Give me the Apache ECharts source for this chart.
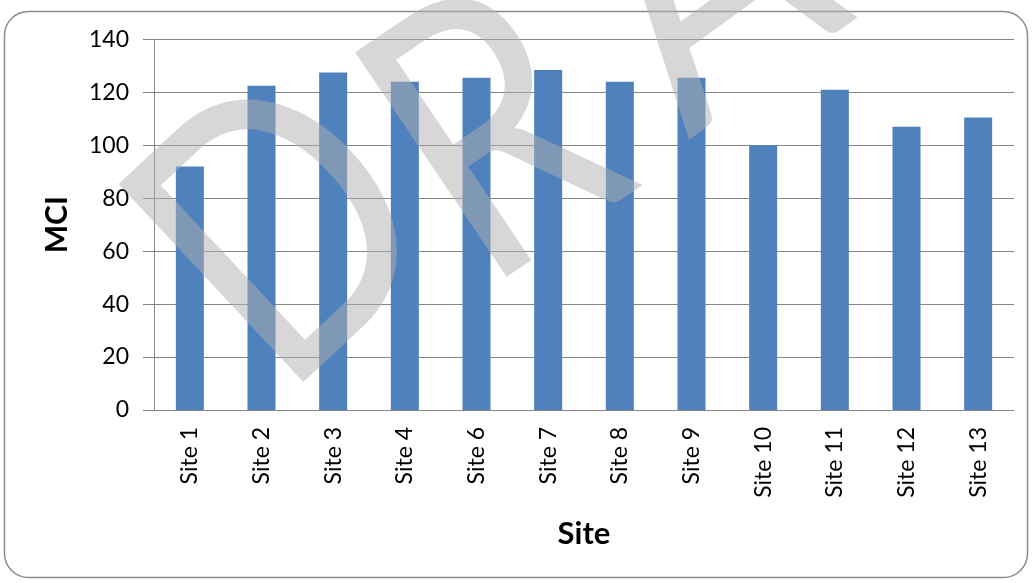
<!DOCTYPE html>
<html>
<head>
<meta charset="utf-8">
<script src="https://cdn.jsdelivr.net/npm/echarts@6/dist/echarts.min.js"></script>
<style>
  html, body { margin: 0; padding: 0; background: #ffffff; }
  #chart { width: 1033px; height: 583px; }
</style>
</head>
<body>
<div id="chart"></div>
<script>
// Site names along the x axis
const sites = ['Site 1', 'Site 2', 'Site 3', 'Site 4', 'Site 6', 'Site 7',
               'Site 8', 'Site 9', 'Site 10', 'Site 11', 'Site 12', 'Site 13'];
// MCI score at each site
const mciValues = [92, 122.5, 127.5, 124, 125.5, 128.5, 124, 125.5, 100, 121, 107, 110.5];
// Value axis range
const yMin = 0, yMax = 140, yStep = 20;

const FONT = 'Lato, "Open Sans", sans-serif';

// Watermark letters: lower-left ink corner on screen, tilt in degrees, left side bearing (em)
const stampLetters = [
  { ch: 'D', corner: [298, 378], deg: 43, lsb: 0.088 },
  { ch: 'R', corner: [502, 272], deg: 34, lsb: 0.088 },
  { ch: 'A', corner: [687, 133], deg: 36, lsb: 0.01 },
  { ch: 'F', corner: [885, -5], deg: 36, lsb: 0.088 },
  { ch: 'T', corner: [1040, -120], deg: 36, lsb: 0.02 }
];
const STAMP_SIZE = 378;     // px
const STAMP_SQUEEZE = 0.82; // horizontal glyph scale
const STAMP_DESCENT = 0.195 * STAMP_SIZE; // baseline above the text box bottom

function stampLetter(item) {
  const t = item.deg * Math.PI / 180;
  const lx = STAMP_SQUEEZE * item.lsb * STAMP_SIZE;
  const ly = -STAMP_DESCENT;
  // place the text box so its baseline-left ink corner lands on item.corner
  const rx = lx * Math.cos(t) + ly * Math.sin(t);
  const ry = -lx * Math.sin(t) + ly * Math.cos(t);
  return {
    type: 'text',
    x: item.corner[0] - rx,
    y: item.corner[1] - ry,
    rotation: t,
    scaleX: STAMP_SQUEEZE,
    z: 100,
    silent: true,
    style: {
      text: item.ch,
      font: STAMP_SIZE + 'px Lato, "Open Sans", sans-serif',
      fill: 'rgba(175,175,175,0.5)',
      align: 'left',
      verticalAlign: 'bottom'
    }
  };
}

const chart = echarts.init(document.getElementById('chart'), null, { renderer: 'canvas' });

chart.setOption({
  backgroundColor: '#ffffff',
  animation: false,
  grid: { left: 154, right: 19, top: 39.5, bottom: 173, containLabel: false },
  xAxis: {
    type: 'category',
    data: sites,
    name: 'Site',
    nameLocation: 'middle',
    nameGap: 108,
    nameTextStyle: { fontFamily: FONT, fontSize: 31, fontWeight: 'bold', color: '#000' },
    axisLine: { lineStyle: { color: '#868686', width: 1 } },
    axisTick: { show: false },
    axisLabel: { rotate: 90, margin: 17, fontFamily: FONT, fontSize: 23, color: '#000', interval: 0 },
    splitLine: { show: false }
  },
  yAxis: {
    type: 'value',
    min: yMin, max: yMax, interval: yStep,
    name: 'MCI',
    nameLocation: 'middle',
    nameGap: 82,
    nameRotate: 90,
    nameTextStyle: { fontFamily: FONT, fontSize: 30, fontWeight: 'bold', color: '#000' },
    axisLine: { show: true, lineStyle: { color: '#868686', width: 1 } },
    axisTick: { show: true, length: 11, lineStyle: { color: '#868686' } },
    axisLabel: { margin: 25, fontFamily: FONT, fontSize: 23, color: '#000' },
    splitLine: { show: true, lineStyle: { color: '#868686', width: 1 } }
  },
  series: [{
    type: 'bar',
    data: mciValues,
    barWidth: 28,
    itemStyle: { color: '#4F81BD' }
  }],
  graphic: [
    // chart frame
    {
      type: 'rect',
      shape: { x: 4.5, y: 11.5, width: 1023, height: 566, r: 24 },
      style: { fill: 'none', stroke: '#8c8c8c', lineWidth: 1.5 },
      z: 0
    }
  ].concat(stampLetters.map(stampLetter))
});
</script>
</body>
</html>
